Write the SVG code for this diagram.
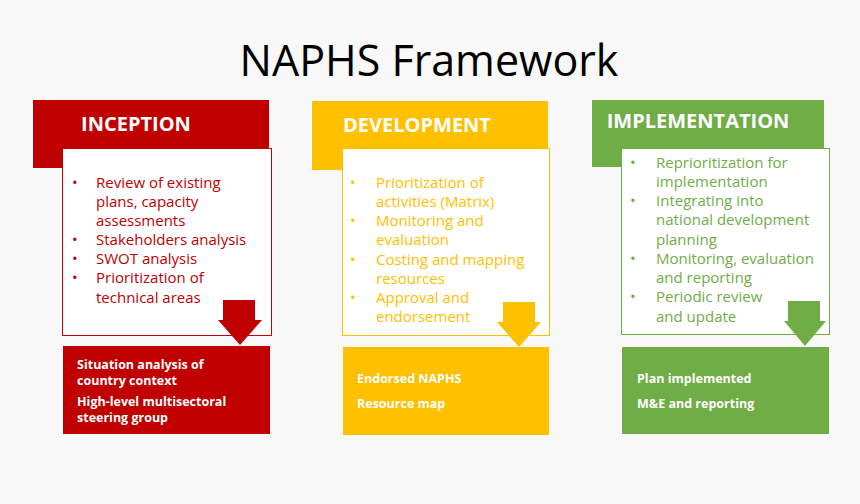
<svg xmlns="http://www.w3.org/2000/svg" width="860" height="504" viewBox="0 0 860 504">
<style>
text{font-family:"Open Sans","Liberation Sans",sans-serif}
.h{font-size:20px;font-weight:bold;fill:#fff}
.b{font-size:15px}
.o{font-size:12.5px;font-weight:bold;fill:#fff}
.r{fill:#C00000}.y{fill:#FFC000}.g{fill:#70AD47}
</style>
<rect width="860" height="504" fill="#f8f8f8"/>
<text x="429" y="76" text-anchor="middle" font-size="43" fill="#000">NAPHS Framework</text>
<g id="inception">
<rect x="33" y="100" width="236" height="68" class="r"/>
<text x="136" y="131" text-anchor="middle" class="h">INCEPTION</text>
<rect x="62.5" y="148.5" width="209" height="187" fill="#fff" stroke="#C00000"/>
<g class="b r">
<text x="72" y="188">•</text><text x="96" y="188">Review of existing</text>
<text x="96" y="207">plans, capacity</text><text x="96" y="226">assessments</text>
<text x="72" y="245">•</text><text x="96" y="245">Stakeholders analysis</text>
<text x="72" y="264">•</text><text x="96" y="264">SWOT analysis</text>
<text x="72" y="283">•</text><text x="96" y="283">Prioritization of</text>
<text x="96" y="303">technical areas</text>
</g>
<rect x="63" y="346" width="207" height="88" class="r"/>
<text class="o"><tspan x="77" y="369">Situation analysis of</tspan><tspan x="77" y="385">country context</tspan><tspan x="77" y="406">High-level multisectoral</tspan><tspan x="77" y="422">steering group</tspan></text>
</g>
<g id="development">
<rect x="312" y="101" width="236" height="69" class="y"/>
<text x="417" y="132" text-anchor="middle" class="h">DEVELOPMENT</text>
<rect x="342.5" y="148.5" width="207" height="187" fill="#fff" stroke="#FFC000"/>
<g class="b y">
<text x="350" y="188">•</text><text x="376" y="188">Prioritization of</text>
<text x="376" y="207">activities (Matrix)</text>
<text x="350" y="226">•</text><text x="376" y="226">Monitoring and</text>
<text x="376" y="245">evaluation</text>
<text x="350" y="265">•</text><text x="376" y="265">Costing and mapping</text>
<text x="376" y="284">resources</text>
<text x="350" y="303">•</text><text x="376" y="303">Approval and</text>
<text x="376" y="322">endorsement</text>
</g>
<rect x="343" y="347" width="206" height="88" class="y"/>
<text class="o"><tspan x="357" y="383">Endorsed NAPHS</tspan><tspan x="357" y="408">Resource map</tspan></text>
</g>
<g id="implementation">
<rect x="592" y="100" width="232" height="67" class="g"/>
<text x="698" y="128" text-anchor="middle" class="h">IMPLEMENTATION</text>
<rect x="621.5" y="148.5" width="208" height="186" fill="#fff" stroke="#70AD47"/>
<g class="b g">
<text x="630" y="168">•</text><text x="656" y="168">Reprioritization for</text>
<text x="656" y="187">implementation</text>
<text x="630" y="206">•</text><text x="656" y="206">Integrating into</text>
<text x="656" y="225">national development</text>
<text x="656" y="245">planning</text>
<text x="630" y="264">•</text><text x="656" y="264">Monitoring, evaluation</text>
<text x="656" y="283">and reporting</text>
<text x="630" y="302">•</text><text x="656" y="302">Periodic review</text>
<text x="656" y="322">and update</text>
</g>
<rect x="622" y="347" width="207" height="87" class="g"/>
<text class="o"><tspan x="637" y="383">Plan implemented</tspan><tspan x="637" y="408">M&amp;E and reporting</tspan></text>
</g>
<g id="connectors">
<polygon points="223,300 255,300 255,320 262,320 240,345 218,320 223,320" class="r"/>
<polygon points="503,302 535,302 535,322 541,322 519,347 497,322 503,322" class="y"/>
<polygon points="788,301 820,301 820,321 826,321 805,346 784,321 788,321" class="g"/>
</g>
</svg>
